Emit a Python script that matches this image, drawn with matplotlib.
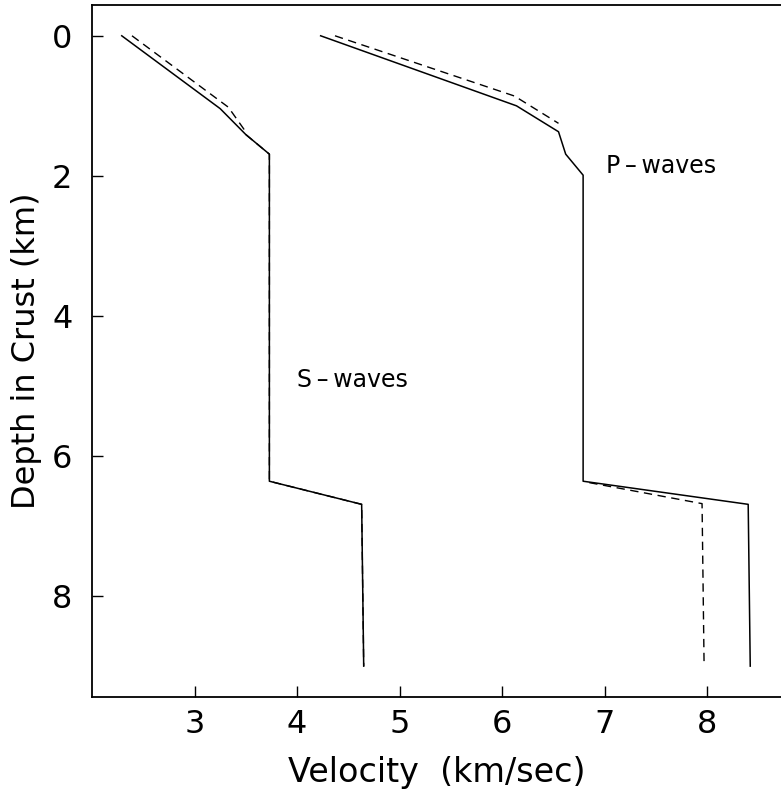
import matplotlib
matplotlib.use("Agg")
import matplotlib.pyplot as plt

# S-wave velocity profiles (km/sec) vs depth (km)
s_solid_v = [2.29, 3.25, 3.50, 3.73, 3.73, 4.63, 4.65]
s_solid_z = [0.0, 1.04, 1.41, 1.69, 6.36, 6.69, 9.0]
s_dash_v = [2.39, 3.33, 3.48, 3.50, 3.73, 3.73, 4.63, 4.65]
s_dash_z = [0.0, 1.02, 1.33, 1.41, 1.69, 6.36, 6.69, 9.0]

# P-wave velocity profiles
p_solid_v = [4.23, 6.14, 6.55, 6.62, 6.79, 6.79, 8.40, 8.42]
p_solid_z = [0.0, 1.0, 1.37, 1.69, 1.99, 6.36, 6.69, 9.0]
p_dash_v = [4.37, 6.12, 6.55]
p_dash_z = [0.0, 0.86, 1.25]
p_dash2_v = [6.85, 7.95, 7.97]
p_dash2_z = [6.38, 6.68, 9.0]

xticks = [3, 4, 5, 6, 7, 8]
yticks = [0, 2, 4, 6, 8]

plt.rcParams['font.family'] = ['DejaVu Sans']

fig = plt.figure(figsize=(7.81, 8.02), dpi=100)
ax = fig.add_axes([0.1178, 0.131, 0.8822, 0.8628])

dash = (0, (6, 4))
ax.plot(s_solid_v, s_solid_z, color='black', lw=1.1)
ax.plot(s_dash_v, s_dash_z, color='black', lw=1.0, linestyle=dash)
ax.plot(p_solid_v, p_solid_z, color='black', lw=1.1)
ax.plot(p_dash_v, p_dash_z, color='black', lw=1.0, linestyle=dash)
ax.plot(p_dash2_v, p_dash2_z, color='black', lw=1.0, linestyle=dash)

ax.text(7.01, 1.86, 'P\u2009\u2013\u2009waves', fontsize=17, va='center', ha='left')
ax.text(4.0, 4.91, 'S\u2009\u2013\u2009waves', fontsize=17, va='center', ha='left')

ax.set_xlim(2.0, 8.72)
ax.set_ylim(9.44, -0.44)
ax.set_xticks(xticks)
ax.set_yticks(yticks)
ax.tick_params(direction='in', length=8, width=1.0, labelsize=23)
ax.tick_params(axis='x', pad=9)
ax.tick_params(axis='y', pad=14)
ax.spines['right'].set_visible(False)
for s in ['left', 'bottom', 'top']:
    ax.spines[s].set_linewidth(1.3)

ax.set_xlabel('Velocity  (km/sec)', fontsize=24, labelpad=11)
ax.set_ylabel('Depth in Crust (km)', fontsize=23, labelpad=7)

fig.savefig('out.png', dpi=100)
